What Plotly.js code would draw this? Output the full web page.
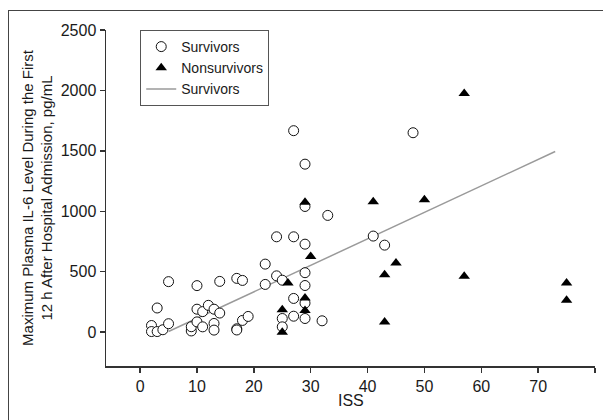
<!DOCTYPE html>
<html>
<head>
<meta charset="utf-8">
<script src="https://cdn.plot.ly/plotly-3.0.1.min.js"></script>
<style>
  html, body { margin: 0; padding: 0; background: #fff; }
  #wrap { position: relative; width: 603px; height: 420px; overflow: hidden; }
  #frame { position: absolute; left: 8px; top: 10px; width: 640px; height: 460px;
           border-left: 1.5px solid #444; border-top: 1.5px solid #444; pointer-events: none; }
  #chart { position: absolute; left: 0; top: 0; width: 603px; height: 420px; }
</style>
</head>
<body>
<div id="wrap">
  <div id="chart"></div>
  <div id="frame"></div>
</div>
<script>
// Injury Severity Score vs. peak plasma IL-6 in the first 12 h
const survISS = [2, 2, 3, 4, 5, 3, 5, 9, 9, 10, 10, 10, 11, 12, 13, 14, 11, 13, 13, 14,
                 17, 18, 17, 17, 18, 19, 22, 22, 24, 27, 24, 25, 29, 29, 29, 27, 33,
                 29, 29, 27, 29, 25, 25, 27, 29, 32, 41, 43, 48];
const survIL6 = [55, 5, 5, 20, 70, 200, 418, 10, 45, 85, 385, 190, 170, 222, 190, 158, 44, 72, 17, 420,
                 445, 428, 28, 18, 97, 130, 563, 395, 789, 789, 466, 430, 728, 1040, 1390, 1667, 966,
                 492, 386, 279, 240, 113, 44, 132, 113, 94, 795, 720, 1650];

const nonISS = [25, 25, 26, 29, 29, 29, 30, 41, 43, 43, 45, 50, 57, 57, 75, 75];
const nonIL6 = [0, 186, 406, 282, 180, 1075, 627, 1080, 476, 84, 572, 1096, 1975, 462, 406, 263];

// Linear fit for survivors
const fitISS = [5, 73];
const fitIL6 = [5, 1495];

const xTicks = [0, 10, 20, 30, 40, 50, 60, 70, 80];
const yTicks = [0, 500, 1000, 1500, 2000, 2500];

const FONT = '"Liberation Sans", Arial, sans-serif';

const traces = [
  {
    x: fitISS, y: fitIL6, type: 'scatter', mode: 'lines', name: 'Survivors',
    line: { color: '#9a9a9a', width: 1.5 }, legendrank: 3
  },
  {
    x: survISS, y: survIL6, type: 'scatter', mode: 'markers', name: 'Survivors',
    marker: { symbol: 'circle', size: 10, color: '#ffffff', line: { color: '#111', width: 1 } },
    legendrank: 1
  },
  {
    x: nonISS, y: nonIL6, type: 'scatter', mode: 'markers', name: 'Nonsurvivors',
    marker: { symbol: 'triangle-up', size: 10, color: '#000000', line: { width: 0 } },
    legendrank: 2
  }
];

const layout = {
  width: 603, height: 420,
  margin: { l: 106, r: 8, t: 30, b: 54 },
  paper_bgcolor: 'rgba(0,0,0,0)', plot_bgcolor: 'rgba(0,0,0,0)',
  font: { family: FONT, color: '#1a1a1a', size: 15 },
  showlegend: true,
  legend: {
    x: 0.07, y: 1.0, xanchor: 'left', yanchor: 'top',
    bgcolor: '#ffffff', bordercolor: '#555', borderwidth: 1,
    font: { family: FONT, size: 14, color: '#1a1a1a' },
    itemwidth: 30, tracegroupgap: 0
  },
  xaxis: {
    range: [-6, 80], tickvals: xTicks, ticktext: xTicks.map(String),
    showgrid: false, zeroline: false, showline: true, linecolor: '#333', linewidth: 1.5,
    ticks: 'outside', ticklen: 5, tickwidth: 1.5, tickcolor: '#333',
    tickfont: { family: FONT, size: 16 }
  },
  yaxis: {
    range: [-280, 2500], tickvals: yTicks, ticktext: yTicks.map(String),
    showgrid: false, zeroline: false, showline: true, linecolor: '#333', linewidth: 1.5,
    ticks: 'outside', ticklen: 5, tickwidth: 1.5, tickcolor: '#333',
    tickfont: { family: FONT, size: 16 },
    title: {
      text: 'Maximum Plasma IL-6 Level During the First<br>12 h After Hospital Admission, pg/mL',
      font: { family: FONT, size: 15 }, standoff: 4
    }
  },
  // x-axis title sits tight under the tick labels
  annotations: [{
    text: 'ISS', xref: 'paper', yref: 'paper', x: 0.5, y: -0.102,
    xanchor: 'center', yanchor: 'middle', showarrow: false,
    font: { family: FONT, size: 16, color: '#1a1a1a' }
  }]
};

Plotly.newPlot('chart', traces, layout, { staticPlot: true, displayModeBar: false });
</script>
</body>
</html>
